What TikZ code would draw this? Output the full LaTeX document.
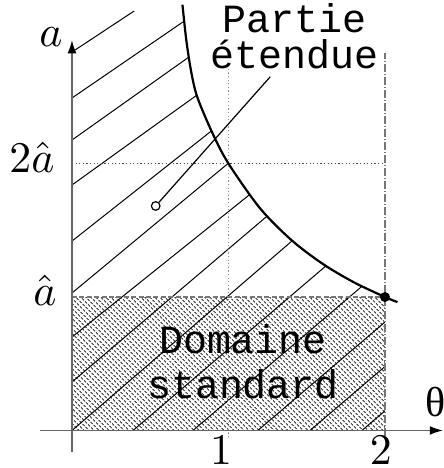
\documentclass[tikz,border=0pt]{standalone}
\usepackage{fontspec}
\newfontfamily\courfont{Liberation Mono}
\newfontfamily\timesfont{Liberation Serif}
\usetikzlibrary{arrows.meta,patterns.meta}
\definecolor{axisgray}{HTML}{666666}
\definecolor{guidegray}{HTML}{8E8E8E}
\definecolor{dashgray}{HTML}{777777}
\tikzset{
  axisline/.style={draw=axisgray, line width=0.35pt,
    -{Latex[length=3.3pt,width=2.2pt,color=black]}},
  hatchline/.style={black, line width=0.25pt},
  rim/.style={black, line width=0.55pt},
  guide/.style={guidegray, line width=0.3pt, dash pattern=on 0.3pt off 0.6pt},
  guidedark/.style={guide, draw=black!70},
  border/.style={dashgray, line width=0.3pt, dash pattern=on 1.25pt off 0.6pt},
  limit/.style={dashgray, line width=0.35pt,
    dash pattern=on 2pt off 0.5pt on 0.25pt off 0.5pt},
  standard/.style={pattern={Lines[angle=-45,distance=0.9pt,line width=0.33pt]},
    pattern color=black!70},
  lbl/.style={inner sep=0pt, font=\fontsize{10.5}{12}\selectfont},
  textlbl/.style={inner sep=0pt, align=center},
  leader/.style={black, line width=0.3pt},
}

\begin{document}
\begin{tikzpicture}[x=39.125pt, y=33.375pt]
\useasboundingbox (-0.460,-0.281) rectangle (2.377,3.225);

% standard domain
\fill[standard] (0,0) rectangle (2,1);

% hatching of the whole admissible region
\begin{scope}
  \clip (0,0) rectangle (2,3.14);
  \clip (0,0) -- (0,3.3) -- (0.7,3.3) -- plot[smooth] coordinates {(0.706,3.19)
    (0.73,2.93) (0.76,2.70) (0.8,2.5) (0.9,2.222) (1,2) (1.2,1.667) (1.4,1.429)
    (1.6,1.25) (1.8,1.111) (2,1)} -- (2,0) -- cycle;
  \foreach \ay/\sl in {2.835/0.774, 2.491/0.803, 2.176/0.832, 1.839/0.844,
      1.419/0.926, 1.030/0.973, 0.700/0.94, 0.363/0.997, 0/1.01}
    \draw[hatchline] (0,\ay) -- ++(3,3*\sl);
  \foreach \tx in {0.390,0.773,1.188,1.521,1.853}
    \draw[hatchline] (\tx,0) -- ++(3,3);
\end{scope}

\draw[border] (0,1) -- (2,1);
\draw[guide] (1,-0.05) -- (1,2.715);
\draw[guidedark] (0,2) -- (2,2);
\draw[limit] (2,-0.04) -- (2,2.828);

\draw[rim] plot[smooth] coordinates {(0.706,3.19) (0.73,2.93) (0.76,2.70)
  (0.8,2.5) (0.9,2.222) (1,2) (1.2,1.667) (1.4,1.429) (1.6,1.25) (1.8,1.111)
  (2,1) (2.08,0.962)};

\draw[axisline] (-0.204,0) -- (2.371,0);
\draw[axisline] (0,-0.161) -- (0,2.925);

\node[circle, fill=black, inner sep=0pt, minimum size=2.5pt] (corner) at (2,1) {};
\node[circle, draw=black, fill=white, line width=0.3pt, inner sep=0pt,
  minimum size=2.15pt] (spot) at (0.535,1.682) {};
\coordinate (leadend) at (1.267,2.650);
\draw[leader] (spot) -- (leadend);

\node[lbl] (alabel) at (-0.134,2.948) {$a$};
\node[lbl] (twoahat) at (-0.256,2.05) {$2\hat a$};
\node[lbl] (ahat) at (-0.173,1.052) {$\hat a$};
\node[lbl] (one) at (0.952,-0.146) {$1$};
\node[lbl] (two) at (1.974,-0.146) {$2$};
\node[lbl, font=\timesfont\fontsize{10.5}{12}\selectfont] (thetalbl)
  at (2.326,0.213) {θ};

\node[textlbl, font={\courfont\fontsize{10}{9}\selectfont}] (partie)
  at (1.425,2.955) {Partie\\étendue};
\node[textlbl, font={\courfont\fontsize{10}{11.25}\selectfont}] (domaine)
  at (1.093,0.513) {Domaine\\standard};

\end{tikzpicture}
\end{document}
